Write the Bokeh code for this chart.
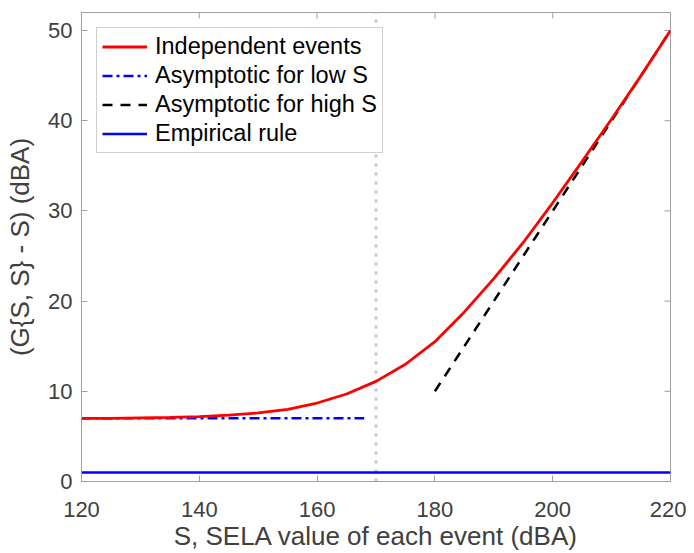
import math
from bokeh.plotting import figure
from bokeh.models import Legend, LegendItem, Range1d, FixedTicker
from bokeh.embed import file_html
from bokeh.resources import INLINE

# Data
s_indep = [120, 125, 130, 135, 140, 145, 150, 155, 160, 165, 170, 175, 180, 185, 190, 195, 200, 205, 210, 215, 220]
g_indep = [7.0, 7.0, 7.05, 7.1, 7.2, 7.35, 7.6, 8.0, 8.7, 9.7, 11.1, 13.0, 15.5, 18.8, 22.5, 26.5, 30.9, 35.5, 40.2, 45.0, 50.0]
s_low = [120, 168]
g_low = [7.0, 7.0]
s_high = [180, 220]
g_high = [10.0, 50.0]
s_emp = [120, 220]
g_emp = [1.0, 1.0]
s_mark = [170, 170]
g_mark = [0, 52]
x_ticks = [120, 140, 160, 180, 200, 220]
y_ticks = [0, 10, 20, 30, 40, 50]
x_lim = [120, 220]
y_lim = [0, 52]

FONT = "Liberation Sans"
AX = "#a0a0a0"
TXT = "#404040"

p = figure(width=686, height=553, output_backend="svg", toolbar_location=None,
           x_range=Range1d(*x_lim), y_range=Range1d(*y_lim),
           min_border_left=81, min_border_right=16, min_border_top=12, min_border_bottom=68)
p.background_fill_color = "white"
p.border_fill_color = "white"
p.grid.visible = False
p.outline_line_color = AX
p.outline_line_width = 1

for ax in (p.xaxis[0], p.yaxis[0]):
    ax.axis_line_color = AX
    ax.major_tick_line_color = AX
    ax.major_tick_in = 6
    ax.major_tick_out = 0
    ax.minor_tick_line_color = None
    ax.major_label_text_font = FONT
    ax.major_label_text_font_size = "22px"
    ax.major_label_text_color = TXT
    ax.axis_label_text_font = FONT
    ax.axis_label_text_font_size = "26px"
    ax.axis_label_text_font_style = "normal"
    ax.axis_label_text_color = TXT

p.xaxis[0].ticker = FixedTicker(ticks=x_ticks)
p.yaxis[0].ticker = FixedTicker(ticks=y_ticks)
p.xaxis[0].axis_label = "S, SELA value of each event (dBA)"
p.yaxis[0].axis_label = "(G{S, S} - S) (dBA)"
p.xaxis[0].major_label_standoff = 20
p.xaxis[0].axis_label_standoff = 1
p.yaxis[0].major_label_standoff = 9
p.yaxis[0].axis_label_standoff = 10

# inward ticks on top and right edges of the box
p.scatter(x_ticks, [y_lim[1]] * len(x_ticks), marker="dash", angle=math.pi / 2,
          size=12, line_color=AX, line_width=1)
p.scatter([x_lim[1]] * len(y_ticks), y_ticks, marker="dash",
          size=12, line_color=AX, line_width=1)

r_mark = p.line(s_mark, g_mark, line_color="#c8c8c8", line_width=3, line_dash="3 6")
r_emp = p.line(s_emp, g_emp, line_color="#0000ff", line_width=2.5)
r_low = p.line(s_low, g_low, line_color="#0000ff", line_width=2.5, line_dash="10 4 3 4")
r_high = p.line(s_high, g_high, line_color="black", line_width=2.5, line_dash="10 8")
r_ind = p.line(s_indep, g_indep, line_color="#ff0000", line_width=2.8)

legend = Legend(items=[
    LegendItem(label="Independent events", renderers=[r_ind]),
    LegendItem(label="Asymptotic for low S", renderers=[r_low]),
    LegendItem(label="Asymptotic for high S", renderers=[r_high]),
    LegendItem(label="Empirical rule", renderers=[r_emp]),
], location="top_left")
legend.label_text_font = FONT
legend.label_text_font_size = "23.5px"
legend.label_text_color = "black"
legend.border_line_color = AX
legend.border_line_width = 1
legend.background_fill_alpha = 1
legend.glyph_width = 45
legend.glyph_height = 27
legend.label_height = 27
legend.spacing = 2
legend.padding = 5
legend.margin = 15
legend.label_standoff = 8
p.add_layout(legend)

open("out.html", "w").write(file_html(p, INLINE))
